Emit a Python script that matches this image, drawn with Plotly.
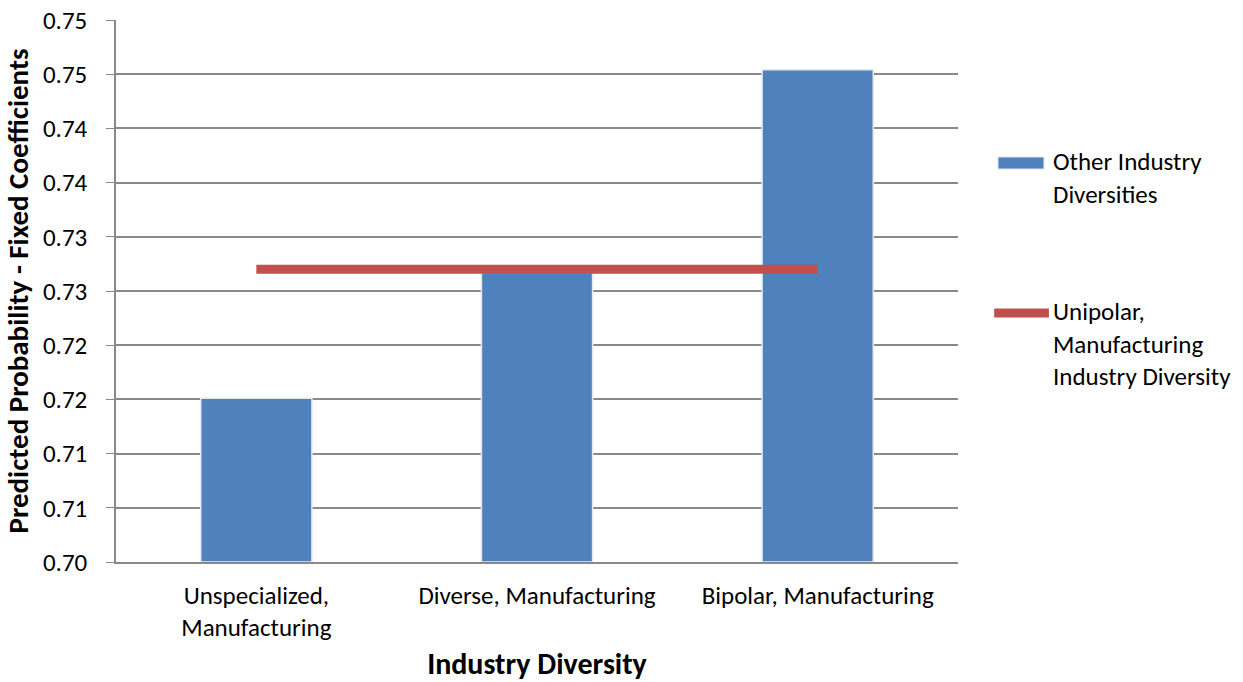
import plotly.graph_objects as go

# Categories and values
categories = ["Unspecialized,<br>Manufacturing", "Diverse, Manufacturing", "Bipolar, Manufacturing"]
other_diversities = [0.7151, 0.7267, 0.7454]
unipolar_reference = [0.7270, 0.7270, 0.7270]
axis_floor = 0.700

# Y-axis ticks (step 0.005, labelled with two decimals)
y_tickvals = [0.700, 0.705, 0.710, 0.715, 0.720, 0.725, 0.730, 0.735, 0.740, 0.745, 0.750]
y_ticktext = ["0.70", "0.71", "0.71", "0.72", "0.72", "0.73", "0.73", "0.74", "0.74", "0.75", "0.75"]

# Legend entries
bar_label = "Other Industry<br>Diversities"
line_label = "Unipolar,<br>Manufacturing<br>Industry Diversity"

FONT = "Carlito, Calibri, Lato, sans-serif"
BLUE = "#4F81BD"
RED = "#C0504D"
GRID = "#898989"
TICK_SIZE = 25

fig = go.Figure()

fig.add_trace(go.Bar(
    x=categories,
    y=[v - axis_floor for v in other_diversities],
    base=axis_floor,
    name=bar_label.replace("<br>", " "),
    marker=dict(color=BLUE, line=dict(color="#E4E9F0", width=1.5)),
    showlegend=False,
))

fig.add_trace(go.Scatter(
    x=categories,
    y=unipolar_reference,
    mode="lines",
    name=line_label.replace("<br>", " "),
    line=dict(color=RED, width=9),
    showlegend=False,
))

# Legend drawn at the right of the plot area
fig.add_shape(type="rect", xref="paper", yref="paper",
              x0=1.0475, x1=1.1021, y0=0.7472, y1=0.7251,
              fillcolor=BLUE, line=dict(color="#DCE3EE", width=1))
fig.add_annotation(xref="paper", yref="paper", x=1.1105, y=0.7076,
                   xanchor="left", yanchor="middle", align="left",
                   text=bar_label, showarrow=False,
                   font=dict(family=FONT, size=TICK_SIZE))
fig.add_shape(type="line", xref="paper", yref="paper",
              x0=1.043, x1=1.108, y0=0.4594, y1=0.4594,
              line=dict(color=RED, width=9))
fig.add_annotation(xref="paper", yref="paper", x=1.1105, y=0.4022,
                   xanchor="left", yanchor="middle", align="left",
                   text=line_label, showarrow=False,
                   font=dict(family=FONT, size=TICK_SIZE))

fig.update_layout(
    width=1243,
    height=682,
    margin=dict(l=116, r=285, t=20, b=120),
    plot_bgcolor="white",
    paper_bgcolor="white",
    font=dict(family=FONT, size=TICK_SIZE, color="#000000"),
    bargap=0.604,
    showlegend=False,
    xaxis=dict(
        title=dict(text="<b>Industry Diversity</b>", font=dict(family=FONT, size=30), standoff=12),
        automargin=False,
        showline=True,
        linecolor=GRID,
        linewidth=1.5,
        showgrid=False,
        ticks="",
        ticklabelstandoff=10,
        tickfont=dict(family=FONT, size=TICK_SIZE),
    ),
    yaxis=dict(
        title=dict(text="<b>Predicted Probability - Fixed Coefficients</b>", font=dict(family=FONT, size=29), standoff=10),
        automargin=False,
        range=[0.700, 0.750],
        tickvals=y_tickvals,
        ticktext=y_ticktext,
        showline=True,
        linecolor=GRID,
        linewidth=1.5,
        showgrid=True,
        gridcolor=GRID,
        gridwidth=1.5,
        ticks="outside",
        ticklen=8,
        tickcolor=GRID,
        ticklabelstandoff=14,
        tickfont=dict(family=FONT, size=TICK_SIZE),
        zeroline=False,
    ),
)

fig.write_html("out.html")
